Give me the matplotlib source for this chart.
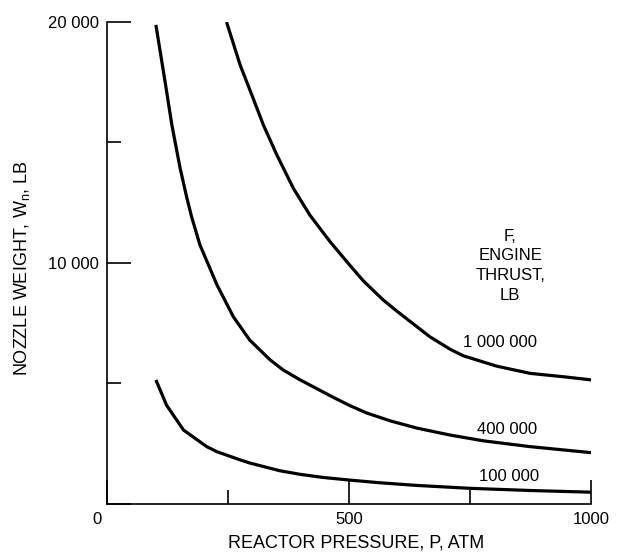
import matplotlib.pyplot as plt

plt.rcParams['font.family'] = ['Liberation Sans', 'DejaVu Sans']
plt.rcParams['mathtext.default'] = 'regular'

# reactor pressure, atm  /  nozzle weight, lb
P_1m = [247, 275, 302, 323, 351, 385, 419, 461, 502, 530, 571, 599, 640, 667,
        709, 736, 805, 874, 943, 1000]
W_1m = [20000, 18220, 16830, 15730, 14480, 13100, 11990, 10880, 9900, 9250, 8460,
        8000, 7360, 6940, 6420, 6150, 5720, 5420, 5280, 5150]

P_400k = [101, 120, 134, 151, 165, 175, 192, 209, 227, 261, 295, 337, 364, 399,
          468, 502, 536, 585, 640, 709, 778, 874, 1000]
W_400k = [19880, 17520, 15730, 13940, 12700, 11900, 10750, 9950, 9100, 7770, 6800,
          5980, 5560, 5150, 4420, 4080, 3780, 3450, 3150, 2860, 2620, 2380, 2130]

P_100k = [101, 123, 158, 206, 227, 275, 295, 357, 399, 447, 502, 564, 640, 750,
          874, 1000]
W_100k = [5150, 4100, 3070, 2380, 2170, 1830, 1700, 1380, 1230, 1100, 990, 880,
          770, 650, 560, 490]

curve_labels = ['1 000 000', '400 000', '100 000']
label_pos = [(812, 6720), (826, 3070), (830, 1120)]

fig = plt.figure(figsize=(6.25, 5.58), dpi=100)
ax = fig.add_axes([0.1712, 0.0968, 0.7744, 0.8638])

for P, W in [(P_1m, W_1m), (P_400k, W_400k), (P_100k, W_100k)]:
    ax.plot(P, W, '-', color='black', lw=2.3, solid_capstyle='butt',
            solid_joinstyle='round')

for lab, (x, y) in zip(curve_labels, label_pos):
    ax.text(x, y, lab, ha='center', va='center', fontsize=12)

ax.text(0.833, 0.494, 'F,\nENGINE\nTHRUST,\nLB', transform=ax.transAxes,
        ha='center', va='center', fontsize=12, linespacing=1.4)

ax.set_xlim(0, 1000)
ax.set_ylim(0, 20000)
ax.spines['top'].set_visible(False)
ax.spines['right'].set_visible(False)
for s in ['left', 'bottom']:
    ax.spines[s].set_linewidth(1.2)

ax.set_xticks([0, 500, 1000])
ax.set_xticklabels(['', '500', '1000'])
ax.set_xticks([250, 750], minor=True)
ax.set_yticks([0, 10000, 20000])
ax.set_yticklabels(['', '10 000', '20 000'])
ax.set_yticks([5000, 15000], minor=True)
ax.tick_params(which='major', direction='in', length=17, width=1.2, labelsize=12)
ax.tick_params(which='minor', direction='in', length=10, width=1.2)
ax.tick_params(axis='x', which='major', pad=6)
ax.tick_params(axis='y', which='major', pad=6)
ax.text(-0.021, -0.033, '0', transform=ax.transAxes, ha='center', va='center', fontsize=12)

ax.set_xlabel('REACTOR PRESSURE, P, ATM', fontsize=13)
ax.xaxis.set_label_coords(0.514, -0.064)
ax.set_ylabel('NOZZLE WEIGHT, W$_n$, LB', fontsize=13)
ax.yaxis.set_label_coords(-0.155, 0.49)

fig.savefig('out.png', dpi=100)
